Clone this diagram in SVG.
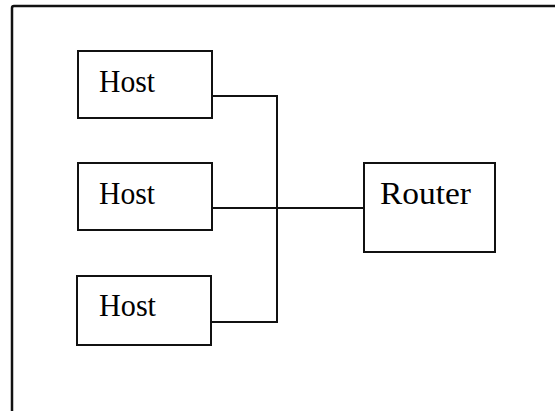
<svg xmlns="http://www.w3.org/2000/svg" width="555" height="411" viewBox="0 0 555 411">
<style>
.box{fill:#fff;stroke:#111;stroke-width:2}
.lbl{font-family:"Liberation Serif","Times New Roman",serif;font-size:32px;fill:#000}
.wire{fill:none;stroke:#111;stroke-width:2}
.frame{fill:none;stroke:#111;stroke-width:2.5}
</style>
<rect width="555" height="411" fill="#fff"/>
<path class="frame" d="M560 6 H14 Q12 6 12 8 V420"/>
<g id="connectors">
<path class="wire" d="M212 96 H277 V322 H211"/>
<path class="wire" d="M212 208 H364"/>
</g>
<g id="host1">
<rect class="box" x="78" y="51" width="134" height="67"/>
<text class="lbl" x="99" y="92" textLength="56" lengthAdjust="spacingAndGlyphs">Host</text>
</g>
<g id="host2">
<rect class="box" x="78" y="163" width="134" height="67"/>
<text class="lbl" x="99" y="204" textLength="56" lengthAdjust="spacingAndGlyphs">Host</text>
</g>
<g id="host3">
<rect class="box" x="77" y="276" width="134" height="69"/>
<text class="lbl" x="99" y="316" textLength="57" lengthAdjust="spacingAndGlyphs">Host</text>
</g>
<g id="router">
<rect class="box" x="364" y="163" width="131" height="89"/>
<text class="lbl" x="380" y="204" textLength="91" lengthAdjust="spacingAndGlyphs">Router</text>
</g>
</svg>
